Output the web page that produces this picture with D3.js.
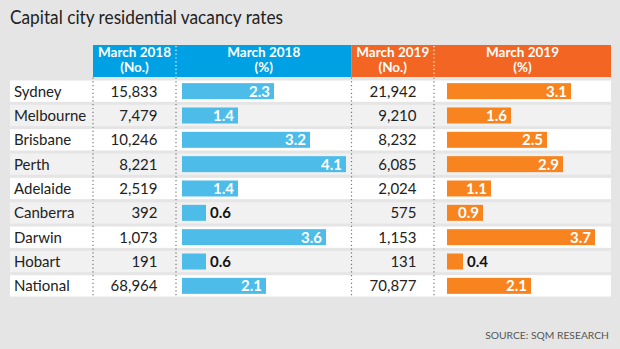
<!DOCTYPE html>
<html>
<head>
<meta charset="utf-8">
<script src="https://cdn.jsdelivr.net/npm/d3@7"></script>
<style>
  html, body { margin: 0; padding: 0; background: #e5e5e5; }
  svg { display: block; font-family: Lato, "Open Sans", sans-serif; }
</style>
</head>
<body>
<div id="chart"></div>
<script>
// Vacancy data per capital city
const cities = ['Sydney', 'Melbourne', 'Brisbane', 'Perth', 'Adelaide', 'Canberra', 'Darwin', 'Hobart', 'National'];
const count2018 = [15833, 7479, 10246, 8221, 2519, 392, 1073, 191, 68964];
const rate2018 = [2.3, 1.4, 3.2, 4.1, 1.4, 0.6, 3.6, 0.6, 2.1];
const count2019 = [21942, 9210, 8232, 6085, 2024, 575, 1153, 131, 70877];
const rate2019 = [3.1, 1.6, 2.5, 2.9, 1.1, 0.9, 3.7, 0.4, 2.1];
const headers = [
  ['March 2018', '(No.)'],
  ['March 2018', '(%)'],
  ['March 2019', '(No.)'],
  ['March 2019', '(%)']
];

const width = 620, height = 349;
const BLUE_HEAD = '#00a1e4', BLUE_BAR = '#4dbce9';
const ORANGE_HEAD = '#f26522', ORANGE_BAR = '#f7841f';

const svg = d3.select('#chart').append('svg')
  .attr('width', width)
  .attr('height', height);

svg.append('rect').attr('width', width).attr('height', height).attr('fill', '#e5e5e5');

const title = svg.append('text')
  .attr('x', 10).attr('y', 23.5)
  .attr('font-size', 18.5)
  .attr('fill', '#222')
  .text('Capital city residential vacancy rates');
// keep the title to its set width
title.attr('textLength', 273).attr('lengthAdjust', 'spacingAndGlyphs');

// column edges: name | no. 2018 | % 2018 | no. 2019 | % 2019
const cols = [10, 93, 176, 351.5, 434, 611];
const headCols = [[93, 176], [176, 351.5], [351.5, 434], [434, 611]];

const y = d3.scaleBand()
  .domain(cities)
  .range([80.5, 80.5 + 24 * cities.length])
  .paddingInner(3 / 24)
  .paddingOuter(0);

const x = d3.scaleLinear().domain([0, 4.1]).range([0, 164]);
const fmt = d3.format(',');

// header blocks
const head = svg.append('g');
head.selectAll('rect')
  .data(headCols)
  .join('rect')
  .attr('x', d => d[0])
  .attr('y', 45)
  .attr('width', d => d[1] - d[0])
  .attr('height', 32)
  .attr('fill', (d, i) => i < 2 ? BLUE_HEAD : ORANGE_HEAD);

head.selectAll('text')
  .data(headCols)
  .join('text')
  .attr('x', d => (d[0] + d[1]) / 2)
  .attr('text-anchor', 'middle')
  .attr('fill', '#fff')
  .attr('font-weight', 700)
  .attr('font-size', 13.5)
  .each(function (d, i) {
    const t = d3.select(this);
    t.append('tspan').attr('x', (d[0] + d[1]) / 2).attr('y', 57).text(headers[i][0]);
    t.append('tspan').attr('x', (d[0] + d[1]) / 2).attr('y', 72).text(headers[i][1]);
  });

// row backgrounds
const rows = svg.append('g').selectAll('g')
  .data(cities)
  .join('g')
  .attr('transform', d => `translate(0,${y(d)})`);

rows.append('rect')
  .attr('x', cols[0])
  .attr('width', cols[5] - cols[0])
  .attr('height', y.bandwidth())
  .attr('fill', (d, i) => i % 2 ? '#f1f1f1' : '#fff');

const textY = y.bandwidth() / 2 + 5.5;

rows.append('text')
  .attr('x', 14)
  .attr('y', textY)
  .attr('font-size', 15)
  .attr('fill', '#222')
  .text(d => d);

rows.append('text')
  .attr('x', 157.5)
  .attr('y', textY)
  .attr('text-anchor', 'end')
  .attr('font-size', 15)
  .attr('fill', '#222')
  .text((d, i) => fmt(count2018[i]));

rows.append('text')
  .attr('x', 416.5)
  .attr('y', textY)
  .attr('text-anchor', 'end')
  .attr('font-size', 15)
  .attr('fill', '#222')
  .text((d, i) => fmt(count2019[i]));

// bars with value labels
function drawBars(values, x0, color) {
  const barH = 16;
  const g = rows.append('g').attr('transform', `translate(${x0},${(y.bandwidth() - barH) / 2})`);
  g.append('rect')
    .attr('width', (d, i) => x(values[i]))
    .attr('height', barH)
    .attr('fill', color);
  g.append('text')
    .attr('y', barH / 2 + 5.5)
    .attr('font-size', 15)
    .attr('font-weight', 700)
    .each(function (d, i) {
      const v = values[i];
      const inside = v >= 0.8;
      d3.select(this)
        .attr('x', inside ? x(v) - 4 : x(v) + 4)
        .attr('text-anchor', inside ? 'end' : 'start')
        .attr('fill', inside ? '#fff' : '#111')
        .text(d3.format('.1f')(v));
    });
}

drawBars(rate2018, 182, BLUE_BAR);
drawBars(rate2019, 447, ORANGE_BAR);

// dotted column separators
const tableTop = y(cities[0]) - 3;
const tableBottom = y(cities[cities.length - 1]) + y.bandwidth();
svg.append('g').selectAll('line')
  .data(cols.slice(1, 5))
  .join('line')
  .attr('x1', d => d).attr('x2', d => d)
  .attr('y1', tableTop).attr('y2', tableBottom)
  .attr('stroke', '#777')
  .attr('stroke-width', 1.2)
  .attr('stroke-dasharray', '1.2,2.6');

svg.append('g').selectAll('line')
  .data([cols[2], cols[4]])
  .join('line')
  .attr('x1', d => d).attr('x2', d => d)
  .attr('y1', 46).attr('y2', 77)
  .attr('stroke', '#fff')
  .attr('stroke-width', 1.2)
  .attr('stroke-dasharray', '1.2,2.6');

svg.append('text')
  .attr('x', 609)
  .attr('y', 339)
  .attr('text-anchor', 'end')
  .attr('font-size', 10.3)
  .attr('fill', '#555')
  .text('SOURCE: SQM RESEARCH');
</script>
</body>
</html>
